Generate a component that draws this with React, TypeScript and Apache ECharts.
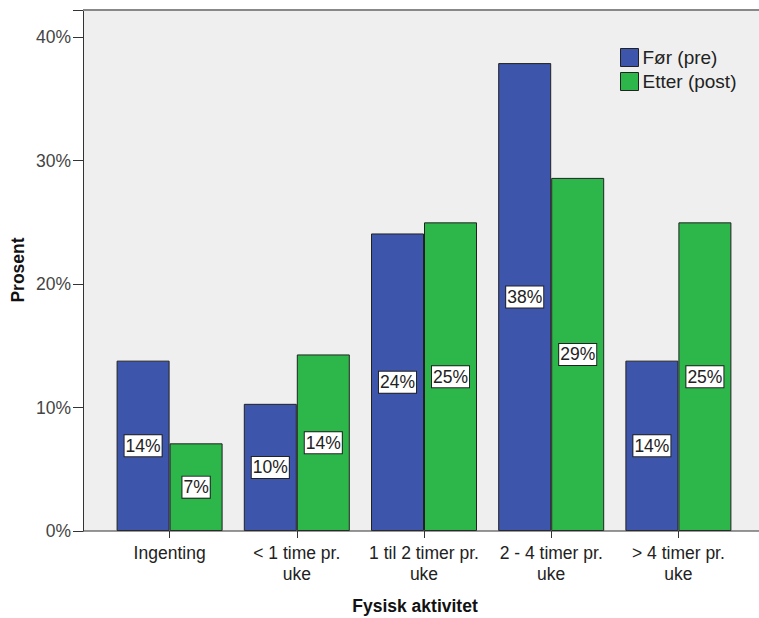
import React, { useEffect, useRef } from "react";
import * as echarts from "echarts";

const categories = [
  "Ingenting",
  "< 1 time pr.\nuke",
  "1 til 2 timer pr.\nuke",
  "2 - 4 timer pr.\nuke",
  "> 4 timer pr.\nuke",
];
const preValues = [13.8, 10.3, 24.1, 37.9, 13.8];
const postValues = [7.1, 14.3, 25.0, 28.6, 25.0];
const seriesNames = ["Før (pre)", "Etter (post)"];
const yTicks = [0, 10, 20, 30, 40];

const FONT = "'Liberation Sans', Arial, sans-serif";

export default function App() {
  const ref = useRef<HTMLDivElement>(null);
  useEffect(() => {
    if (!ref.current) return;
    const chart = echarts.init(ref.current, null, { renderer: "svg" });
    const label = {
      show: true,
      position: "inside",
      formatter: (p: any) => `${Math.round(p.value)}%`,
      fontFamily: FONT,
      fontSize: 17.5,
      color: "#222",
      backgroundColor: "#fff",
      borderColor: "#222",
      borderWidth: 1,
      padding: [2, 1, 1, 1],
    };
    chart.setOption({
      animation: false,
      backgroundColor: "#fff",
      grid: { left: 106, right: 17, top: 10, bottom: 87, containLabel: false },
      legend: {
        left: 620,
        top: 48,
        padding: 0,
        orient: "vertical",
        itemWidth: 18,
        itemHeight: 18,
        itemGap: 5,
        icon: "rect",
        data: seriesNames,
        itemStyle: { borderColor: "#222", borderWidth: 1 },
        textStyle: { fontFamily: FONT, fontSize: 19, color: "#222", padding: [0, 0, 0, -1] },
      },
      xAxis: {
        type: "category",
        data: categories,
        axisLine: { show: false },
        axisTick: { show: true, alignWithLabel: true, length: 7, lineStyle: { color: "#333" } },
        axisLabel: {
          fontFamily: FONT,
          fontSize: 17.5,
          color: "#222",
          margin: 11,
          lineHeight: 21,
          interval: 0,
        },
      },
      yAxis: {
        type: "value",
        min: 0,
        max: 42.2,
        interval: 10,
        offset: 23,
        splitLine: { show: false },
        axisLine: { show: true, lineStyle: { color: "#333" } },
        axisTick: { show: true, length: 10, lineStyle: { color: "#333" } },
        axisLabel: {
          fontFamily: FONT,
          fontSize: 17.5,
          color: "#444",
          margin: 12,
          formatter: (v: number) => (yTicks.includes(v) ? `${v}%` : ""),
        },
      },
      graphic: [
        {
          type: "rect",
          z: -10,
          silent: true,
          shape: { x: 83, y: 10, width: 680, height: 521 },
          style: { fill: "#efefef" },
        },
        {
          type: "line",
          z: 10,
          shape: { x1: 83, y1: 10, x2: 759, y2: 10 },
          style: { stroke: "#888", lineWidth: 2 },
        },
        {
          type: "line",
          z: 10,
          shape: { x1: 83, y1: 531, x2: 759, y2: 531 },
          style: { stroke: "#333", lineWidth: 1 },
        },
        {
          type: "text",
          x: 415,
          y: 606,
          style: {
            text: "Fysisk aktivitet",
            fontFamily: FONT,
            fontSize: 17.5,
            fontWeight: "bold",
            fill: "#111",
            align: "center",
            verticalAlign: "middle",
          },
        },
        {
          type: "text",
          x: 18,
          y: 270,
          rotation: Math.PI / 2,
          style: {
            text: "Prosent",
            fontFamily: FONT,
            fontSize: 17.5,
            fontWeight: "bold",
            fill: "#111",
            align: "center",
            verticalAlign: "middle",
          },
        },
      ],
      series: [
        {
          name: seriesNames[0],
          type: "bar",
          data: preValues,
          barWidth: 53,
          barGap: "0%",
          itemStyle: { color: "#3d55ab", borderColor: "#222", borderWidth: 1 },
          label,
        },
        {
          name: seriesNames[1],
          type: "bar",
          data: postValues,
          barWidth: 53,
          barGap: "0%",
          itemStyle: { color: "#2db64a", borderColor: "#222", borderWidth: 1 },
          label,
        },
      ],
    });
    return () => chart.dispose();
  }, []);
  return (
    <div
      ref={ref}
      style={{ position: "fixed", left: 0, top: 0, width: 759, height: 618 }}
    />
  );
}
